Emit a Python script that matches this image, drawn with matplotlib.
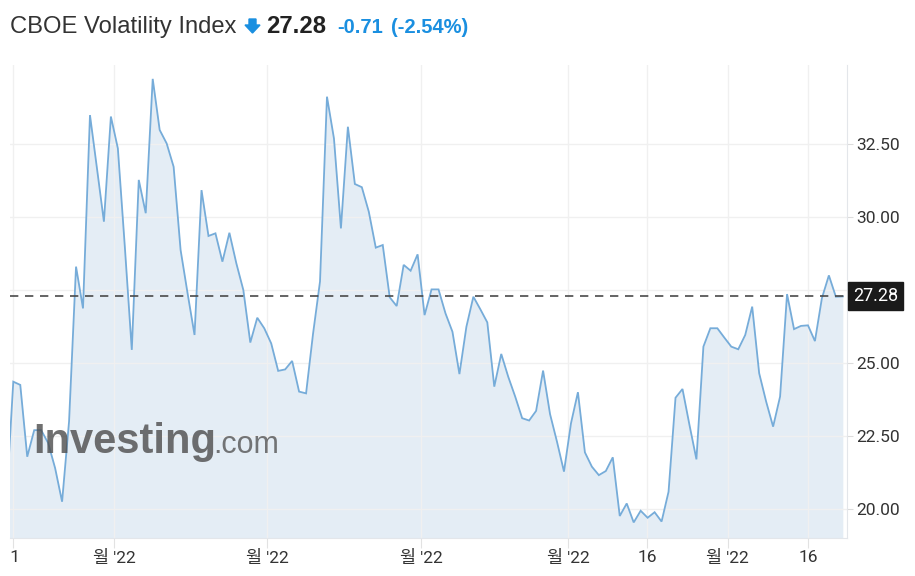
import matplotlib
matplotlib.use("Agg")
import matplotlib.pyplot as plt
import matplotlib.transforms as mtransforms
import numpy as np

plt.rcParams['font.family'] = ['Roboto', 'Noto Sans CJK KR', 'DejaVu Sans']

# ---- data ----
vix_values = [
    20.3,
    24.36, 24.25, 21.79, 22.70, 22.70, 22.26, 21.40, 20.25, 23.00, 28.30,
    26.87, 33.49, 31.67, 29.84, 33.44, 32.35, 28.98, 25.45, 31.27, 30.13,
    34.73, 32.98, 32.52, 31.72, 28.87, 27.39, 25.96, 30.92, 29.35, 29.44,
    28.47, 29.46, 28.41, 27.50, 25.70, 26.55, 26.19, 25.67, 24.73, 24.78,
    25.07, 24.02,
    23.96, 26.00, 27.79, 34.12, 32.69, 29.61, 33.09, 31.13, 31.02, 30.18,
    28.95, 29.04, 27.25, 26.95, 28.36, 28.16, 28.72, 26.64, 27.52, 27.52,
    26.70, 26.07, 24.62, 26.24, 27.27, 26.84, 26.39, 24.19, 25.31, 24.53,
    23.85, 23.11, 23.03, 23.36, 24.74, 23.25, 22.30, 21.28, 22.93, 24.00,
    21.94, 21.45, 21.16, 21.30, 21.77, 19.76, 20.19, 19.54, 19.94, 19.70,
    19.89, 19.57, 20.59, 23.81, 24.11, 22.88, 21.70, 25.56, 26.19, 26.19,
    25.87, 25.56, 25.47, 25.96, 26.93, 24.65, 23.68, 22.82, 23.85, 27.36,
    26.16, 26.27, 26.29, 25.75, 27.22, 28.00, 27.27, 27.28,
]
last_value = 27.28
change_abs = "-0.71"
change_pct = "(-2.54%)"
x_tick_pos = [0.96, 15.45, 37.4, 59.5, 80.6, 91.9, 103.5, 115.0]
x_tick_labels = [" 1", "월 '22", "월 '22", "월 '22", "월 '22", "16", "월 '22", "16"]
y_ticks = [20.0, 22.5, 25.0, 27.5, 30.0, 32.5]
# the 27.50 label is hidden behind the last-value box in the reference
y_tick_labels = ["20.00", "22.50", "25.00", "", "30.00", "32.50"]
title = "CBOE Volatility Index"

# ---- figure ----
W, H = 915, 576
fig = plt.figure(figsize=(W / 100, H / 100), dpi=100)
ax = fig.add_axes([10 / W, 38 / H, 837 / W, 473 / H])

x = np.arange(len(vix_values))
y = np.array(vix_values)
ymin, ymax = 19.007, 35.205
ax.set_xlim(0.527, 120.6)
ax.set_ylim(ymin, ymax)

ax.fill_between(x, y, ymin, color='#e4edf5', zorder=0.2, linewidth=0)
ax.plot(x, y, color='#76acd9', lw=1.3, zorder=3, solid_joinstyle='miter')

ax.axhline(last_value, color='#4a4a4a', lw=1.2, dashes=(5, 4), zorder=4)

ax.set_axisbelow(True)
ax.grid(True, color='#f0f0f0', lw=1)

ax.yaxis.tick_right()
ax.set_yticks(y_ticks)
ax.set_yticklabels(y_tick_labels)
ax.tick_params(axis='y', length=4, color='#dcdcdc', pad=2.5,
               labelsize=12.5, labelcolor='#333333')
ax.set_xticks(x_tick_pos)
ax.set_xticklabels(x_tick_labels)
ax.tick_params(axis='x', length=7, color='#e2e2e2', pad=2,
               labelsize=12.5, labelcolor='#333333')

for s in ['top', 'left']:
    ax.spines[s].set_visible(False)
ax.spines['right'].set_color('#e3e6ea')
ax.spines['bottom'].set_color('#e3e6ea')

# last value label on the right axis
trans = mtransforms.blended_transform_factory(ax.transAxes, ax.transData)
ax.annotate(f"{last_value:.2f}", xy=(1.0, last_value), xycoords=trans,
            xytext=(4.2, 0), textcoords='offset points', ha='left', va='center',
            fontsize=13, color='white', zorder=10, annotation_clip=False,
            bbox=dict(boxstyle='square,pad=0.28', fc='#1a1a1a', ec='#1a1a1a'))

# watermark
fig.text(33 / W, 1 - 453 / H, "Investing", fontsize=30, fontweight='bold',
         family='Liberation Sans', color='#505050', alpha=0.82, va='baseline',
         zorder=20)
fig.text(213 / W, 1 - 453 / H, ".com", fontsize=22,
         family='Liberation Sans', color='#555555', alpha=0.8, va='baseline',
         zorder=20)

# title row
fig.text(10 / W, 1 - 33.3 / H, title, fontsize=17.1, family='Liberation Sans',
         color='#333333', va='baseline')
blue = '#1a8fe0'
arrow = plt.Polygon([[249 / W, 1 - 19 / H], [256 / W, 1 - 19 / H],
                     [256 / W, 1 - 25 / H], [260 / W, 1 - 25 / H],
                     [252.5 / W, 1 - 33 / H], [245 / W, 1 - 25 / H],
                     [249 / W, 1 - 25 / H]],
                    closed=True, transform=fig.transFigure, color=blue)
fig.patches.append(arrow)
fig.text(266 / W, 1 - 33.3 / H, f"{last_value:.2f}", fontsize=17.2,
         fontweight='bold', family='Liberation Sans', color='#222222',
         va='baseline')
fig.text(337 / W, 1 - 33.3 / H, change_abs, fontsize=14.5, fontweight='bold',
         family='Liberation Sans', color=blue, va='baseline')
fig.text(391 / W, 1 - 33.3 / H, change_pct, fontsize=14.5, fontweight='bold',
         family='Liberation Sans', color=blue, va='baseline')

fig.savefig("out.png", dpi=100)
